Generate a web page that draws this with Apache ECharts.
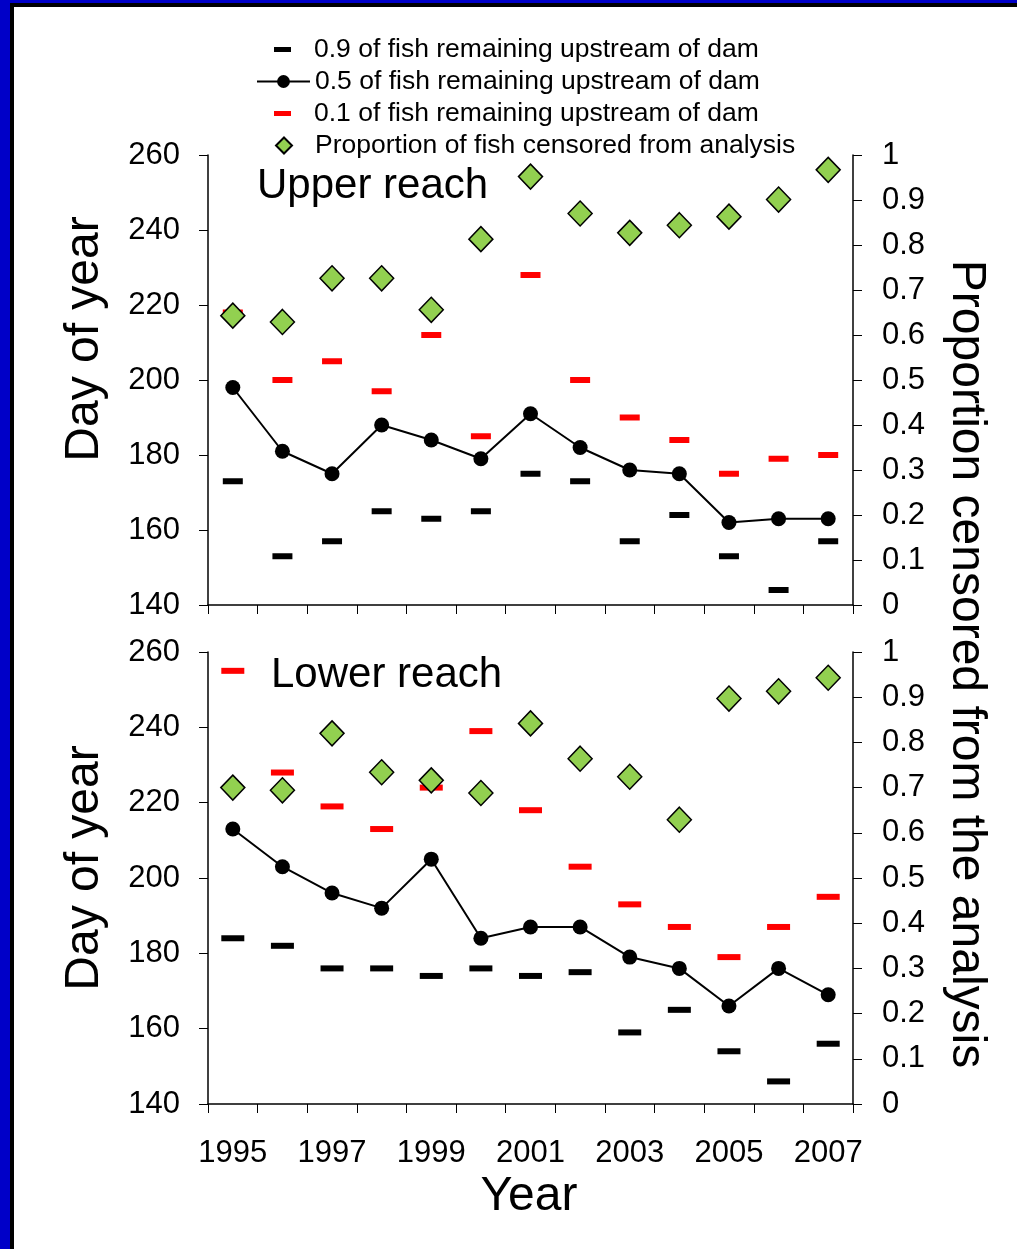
<!DOCTYPE html>
<html>
<head>
<meta charset="utf-8">
<script src="https://cdn.jsdelivr.net/npm/echarts@6/dist/echarts.min.js"></script>
<style>
html,body{margin:0;padding:0;background:#fff;}
#chart{width:1017px;height:1249px;}
</style>
</head>
<body>
<div id="chart"></div>
<script>
const years = ['1995','1996','1997','1998','1999','2000','2001','2002','2003','2004','2005','2006','2007'];
const dayTicks = {min:140, max:260, interval:20};
const propTicks = {min:0, max:1, interval:0.1};

const upperQ90 = [173,153,157,165,163,165,175,173,157,164,153,144,157];
const upperQ50 = [198,181,175,188,184,179,191,182,176,175,162,163,163];
const upperQ10 = [218,200,205,197,212,185,228,200,190,184,175,179,180];
const upperCensored = [0.643,0.629,0.726,0.726,0.656,0.813,0.952,0.870,0.827,0.844,0.863,0.901,0.967];

const lowerQ90 = [184,182,176,176,174,176,174,175,159,165,154,146,156];
const lowerQ50 = [213,203,196,192,205,184,187,187,179,176,166,176,169];
const lowerQ10 = [255,228,219,213,224,239,218,203,193,187,179,187,195];
const lowerCensored = [0.700,0.694,0.820,0.734,0.716,0.688,0.842,0.764,0.724,0.629,0.897,0.913,0.943];

const N90 = '0.9 of fish remaining upstream of dam';
const N50 = '0.5 of fish remaining upstream of dam';
const N10 = '0.1 of fish remaining upstream of dam';
const NC = 'Proportion of fish censored from analysis';

const FONT = "'Liberation Sans', Arial, Helvetica, sans-serif";
const GREEN = '#92d050';

const chart = echarts.init(document.getElementById('chart'), null, {renderer:'canvas'});

function xAxis(gridIndex, showLabels) {
  return {
    type:'category', gridIndex, data: years, boundaryGap:true,
    axisLine:{show:true, lineStyle:{color:'#000', width:1.5}},
    axisTick:{show:true, interval:0, length:9, inside:false, lineStyle:{color:'#000', width:1}},
    axisLabel:{show:showLabels, interval:1, margin:34, fontSize:31, color:'#000', fontFamily:FONT},
    splitLine:{show:false}
  };
}
function yLeft(gridIndex) {
  return {
    type:'value', gridIndex, position:'left', min:dayTicks.min, max:dayTicks.max, interval:dayTicks.interval,
    axisLine:{show:true, lineStyle:{color:'#000', width:1.5}},
    axisTick:{show:true, length:9, lineStyle:{color:'#000', width:1}},
    axisLabel:{margin:28, fontSize:31, color:'#000', fontFamily:FONT},
    splitLine:{show:false}
  };
}
function yRight(gridIndex) {
  return {
    type:'value', gridIndex, position:'right', min:propTicks.min, max:propTicks.max, interval:propTicks.interval,
    axisLine:{show:true, lineStyle:{color:'#000', width:1.5}},
    axisTick:{show:true, length:9, lineStyle:{color:'#000', width:1}},
    axisLabel:{margin:29, fontSize:31, color:'#000', fontFamily:FONT},
    splitLine:{show:false}
  };
}
function seriesFor(xi, yl, yr, q90, q50, q10, cens, dashW) {
  return [
    {name:N90, type:'scatter', xAxisIndex:xi, yAxisIndex:yl, data:q90, symbol:'rect', symbolSize:[dashW,6],
     itemStyle:{color:'#000', opacity:1}, z:3, silent:true},
    {name:N10, type:'scatter', xAxisIndex:xi, yAxisIndex:yl, data:q10, symbol:'rect', symbolSize:[dashW,6],
     itemStyle:{color:'#ff0000', opacity:1}, z:3, silent:true},
    {name:N50, type:'line', xAxisIndex:xi, yAxisIndex:yl, data:q50, symbol:'circle', symbolSize:15,
     showAllSymbol:true, lineStyle:{color:'#000', width:2}, itemStyle:{color:'#000', opacity:1}, z:4, silent:true},
    {name:NC, type:'scatter', xAxisIndex:xi, yAxisIndex:yr, data:cens, symbol:'diamond', symbolSize:[24,25],
     itemStyle:{color:GREEN, borderColor:'#000', borderWidth:1.5, opacity:1}, z:5, silent:true}
  ];
}

const legendText = {fontSize:26.5, color:'#000', fontFamily:FONT};

const option = {
  backgroundColor:'#ffffff',
  animation:false,
  grid:[
    {left:208, top:155, width:645, height:450},
    {left:208, top:652, width:645, height:452}
  ],
  xAxis:[xAxis(0,false), xAxis(1,true)],
  yAxis:[yLeft(0), yRight(0), yLeft(1), yRight(1)],
  legend:[
    {data:[{name:N90, icon:'rect'}], left:274, top:36, padding:0, itemWidth:17, itemHeight:5,
     selectedMode:false, itemStyle:{opacity:1}, textStyle:Object.assign({padding:[0,0,0,18]}, legendText)},
    {data:[{name:N50}], left:256, top:68, padding:0, itemWidth:53, itemHeight:16,
     selectedMode:false, textStyle:legendText},
    {data:[{name:N10, icon:'rect'}], left:274, top:100, padding:0, itemWidth:17, itemHeight:5,
     selectedMode:false, itemStyle:{opacity:1}, textStyle:Object.assign({padding:[0,0,0,18]}, legendText)},
    {data:[{name:NC, icon:'diamond'}], left:275, top:132, padding:0, itemWidth:16, itemHeight:16,
     selectedMode:false, itemStyle:{opacity:1}, textStyle:Object.assign({padding:[0,0,0,18]}, legendText)}
  ],
  series: [].concat(
    seriesFor(0,0,1,upperQ90,upperQ50,upperQ10,upperCensored,20),
    seriesFor(1,2,3,lowerQ90,lowerQ50,lowerQ10,lowerCensored,23)
  ),
  graphic:[
    {type:'rect', shape:{x:0,y:0,width:1017,height:3}, style:{fill:'#0000c8'}, silent:true},
    {type:'rect', shape:{x:0,y:0,width:10,height:1249}, style:{fill:'#0000c8'}, silent:true},
    {type:'rect', shape:{x:10,y:3,width:1007,height:4}, style:{fill:'#000'}, silent:true},
    {type:'rect', shape:{x:10,y:3,width:4,height:1246}, style:{fill:'#000'}, silent:true},
    {type:'text', x:257, y:186, style:{text:'Upper reach', fontSize:42, fontFamily:FONT, fill:'#000', align:'left', verticalAlign:'middle'}},
    {type:'text', x:271, y:675, style:{text:'Lower reach', fontSize:42, fontFamily:FONT, fill:'#000', align:'left', verticalAlign:'middle'}},
    {type:'text', x:85, y:339, rotation:Math.PI/2, style:{text:'Day of year', fontSize:48, fontFamily:FONT, fill:'#000', align:'center', verticalAlign:'middle'}},
    {type:'text', x:85, y:868, rotation:Math.PI/2, style:{text:'Day of year', fontSize:48, fontFamily:FONT, fill:'#000', align:'center', verticalAlign:'middle'}},
    {type:'text', x:966, y:664, rotation:-Math.PI/2, style:{text:'Proportion censored from the analysis', fontSize:48, fontFamily:FONT, fill:'#000', align:'center', verticalAlign:'middle'}},
    {type:'text', x:529, y:1197, style:{text:'Year', fontSize:48, fontFamily:FONT, fill:'#000', align:'center', verticalAlign:'middle'}}
  ]
};
chart.setOption(option);
</script>
</body>
</html>
